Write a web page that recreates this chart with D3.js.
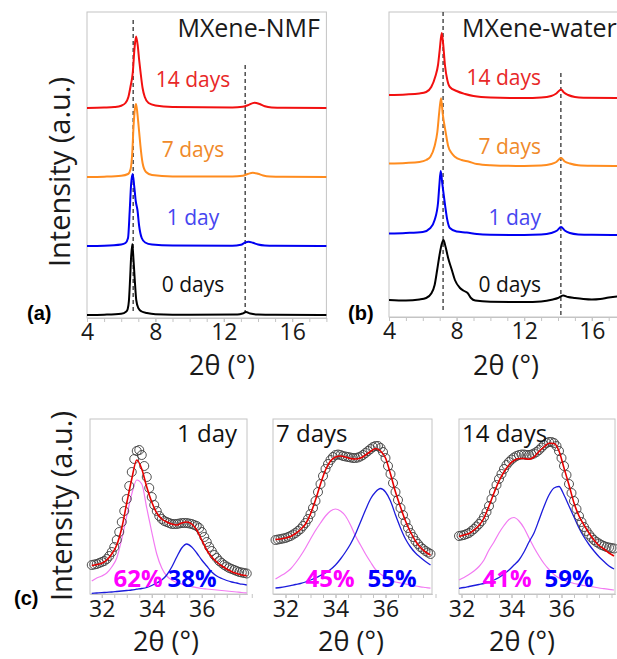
<!DOCTYPE html>
<html>
<head>
<meta charset="utf-8">
<script src="https://cdn.jsdelivr.net/npm/d3@7/dist/d3.min.js"></script>
<style>
body { margin: 0; background: #fff; }
svg { display: block; font-family: "Open Sans", "DejaVu Sans", sans-serif; }
</style>
</head>
<body>
<script>
// ---------- (a) / (b): stacked XRD patterns, [2theta, intensity above own baseline] ----------
const days = ["0 days", "1 day", "7 days", "14 days"]
const lineColors = ["#000000", "#0000f2", "#ff8c1f", "#f21010"]
const labelColors = ["#111111", "#4646f0", "#f08a2a", "#e82828"]

const nmf0 = [[4,0],[5,0.3],[6,1.2],[6.3,3.5],[6.38,6],[6.45,14],[6.52,36],[6.58,58],[6.65,71],[6.72,55],[6.79,36],[6.88,15],[7,7],[7.2,3.5],[7.5,2],[8,0.8],[10,0.3],[12.8,0.5],[13.1,1.5],[13.3,3],[13.55,1.5],[14,0.5],[15,0.2],[18,0]]
const nmf1 = [[4,0],[5,0.3],[6,1.5],[6.25,3],[6.4,8],[6.5,36],[6.58,62],[6.67,72],[6.76,60],[6.85,45],[6.95,36],[7.05,20],[7.2,8],[7.4,3.5],[7.8,1.5],[9,0.5],[12.5,0.3],[13,1.2],[13.25,3.5],[13.45,4.3],[13.7,3.2],[14,1.5],[14.4,0.5],[15,0.2],[18,0]]
const nmf7 = [[4,0],[5,0.3],[6,1.2],[6.4,3],[6.55,8],[6.65,25],[6.72,50],[6.8,68],[6.87,73],[6.95,63],[7.05,45],[7.12,32],[7.25,14],[7.45,5],[7.8,2],[9,0.6],[12.5,0.4],[13.1,1.2],[13.4,3],[13.7,4.2],[14,3.2],[14.3,1.5],[14.7,0.5],[15.5,0.2],[18,0]]
const nmf14 = [[4,0],[5,0.4],[5.6,1],[6,2.3],[6.25,5],[6.42,11],[6.55,22],[6.68,36],[6.78,60],[6.87,71.5],[6.97,62],[7.05,48],[7.13,36],[7.25,20],[7.38,11],[7.6,5],[8,2.5],[9,1],[12.5,0.5],[13.1,1.2],[13.4,2.8],[13.8,5.3],[14.1,4],[14.4,1.8],[14.8,0.6],[15.5,0.2],[18,0]]

const water0 = [[4,2],[5,1.5],[5.8,2.5],[6.2,4],[6.5,8.5],[6.7,17],[6.85,32],[7,48],[7.12,58],[7.22,62],[7.35,55],[7.5,44],[7.7,33],[7.9,22],[8.2,14],[8.45,11],[8.65,9],[8.85,4],[9.1,1.5],[10,0.3],[12,0],[13,0.5],[13.7,2.5],[14,4],[14.3,6.5],[14.6,5],[15,4],[15.5,3],[16,2.5],[16.5,3],[17,4.5],[17.5,5.5],[18,6]]
const water1 = [[4,1.5],[5,2],[6,3],[6.45,7],[6.7,15],[6.9,32],[6.98,50],[7.06,64],[7.15,52],[7.3,32],[7.45,15],[7.6,7],[8,3.5],[8.6,2.5],[9.2,1],[10,0.3],[12,0],[13,0.4],[13.6,2],[13.95,4.5],[14.18,8],[14.4,4.5],[14.7,2],[15.2,0.6],[16,0.2],[18,0]]
const water7 = [[4,2.5],[5,3],[5.8,4],[6.2,6],[6.45,9.3],[6.7,20],[6.86,34],[6.98,55],[7.08,67.7],[7.18,52],[7.35,34],[7.5,20],[7.7,13],[7.9,9.3],[8.3,6],[8.7,4.5],[9.2,2],[10,0.8],[12,0],[13,0.4],[13.6,2],[13.9,4],[14.18,8],[14.4,4.5],[14.7,2.5],[15.2,0.8],[16,0.3],[18,0]]
const water14 = [[4,3],[5,3.5],[5.8,4.5],[6.2,6],[6.5,11],[6.75,22],[6.9,33],[7,48],[7.12,65],[7.2,55],[7.31,33],[7.45,18],[7.6,11],[8,7],[8.5,4],[9,2],[10,0.5],[12,0],[13,0.5],[13.6,2],[13.9,4.5],[14.18,8.5],[14.35,5.5],[14.6,3],[15,1],[15.5,0.3],[18,0]]

const nmfOffsets = [3, 72, 141, 210]
const waterOffsets = [15, 82, 151, 219]
const nmfPeaks = [6.7, 13.25]
const waterPeaks = [7.2, 14.17]
const xrdTicks = [4, 8, 12, 16]

// ---------- (c): peak fits, 2theta 0.1 step for points, 0.2 step for curves ----------
const fitLabels = ["1 day", "7 days", "14 days"]
const magentaShare = ["62%", "45%", "41%"]
const blueShare = ["38%", "55%", "59%"]
const firstTheta = [31.6, 31.6, 31.9]
const fitTicks = [32, 34, 36]

const obs1 = [29,29.5,30,31,32,33,35,38,42,47,54,62,72,83,95,108,122,135,143,144,139,128,117,106,97,89,83,78,75,73,72,71,70,70,70,70.5,71,71,71,70.5,70,69,68,66,62,57,52,47,43,39,36,33,31,29,27.5,26,25,24,23,22,21.5,21,20.5]
const fit1 = [28.5,29.5,30.7,34,40,49,66,91,115,134,125,107,92,81,75,72,70,69,71,72,70,64,54,44,37,32,28,25,22.3,20.5,19,18.3]
const pink1 = [13,16,18,21,27,36,55,78,100,114,110,86,62,40,26,18,14,11.5,10,8.5,7.3,6.3,5.5,5,4.5,4,3.5,3,2.5,2,1.5,1.2]
const blue1 = [0.7,1,1.3,1.7,2,2.5,3,3.5,4,4.8,5.5,6.5,8.5,11,14,19,27,37,46,50,47,41,34,28,22,18,15.5,13.5,12,11,9.8,9]

const obs7 = [54,54.5,55,55.5,56,57,58,59.5,61,63,65,68,71,75,80,86,93,102,110,118,125,130,134,137,139,139.5,139,138,137.5,137,136.5,136,136,136.5,137.5,139,141,143,145,147,148,148,146,142,136,128,120,111,102,94,86,79,72,66,61,57,53,50,47,45,43,41.5,40]
const fit7 = [54.5,55,56,57.5,60.5,64.5,70,80,94,110,124,133,137,138,137,135.5,135,136,139,142.5,145.5,143,136,120,102,87,73,62,53,46.5,42,39]
const pink7 = [15,18,21,25,31,38,46,55,63.5,71,78,83,85,83,78,69,58,49,40,32,24.5,20,16.5,13.5,12,11,10,9,8,7.2,6.5,5.8]
const blue7 = [6,6.5,7.3,8.3,9.5,10.5,12,14,16,18.5,21,24.5,29,35,42,50,60,72,84,95,102,105.5,102,93,79,66,55,47,41,36.5,32.5,29]

const obs14 = [58,58.5,59,60,61,63,65,67.5,70,73,77,82,88,95,102,109,115,120,125,129,132,134.5,136.5,138,139,139.5,139.5,139,139,139.5,140.5,142,144,146.5,149,151,152,152,151,148,143,136,128,119,110,101,93,85,78,72,67,63,59.5,56.5,54,52,50.5,49,48,47,46.5,46,45.5]
const fit14 = [57.5,59,60.5,64,68.5,76,88,101,113,122,129,133.5,135.5,135.5,134.7,137,142.5,147,150.7,150.5,143,126,109,91,78,69,61,54,48.5,45,41,38]
const pink14 = [14,16.5,19.5,23,27.5,34,44,52,61,68.5,74.5,76.5,73,66,56,46.5,38,30.5,24.5,19.5,16,13.5,12,10.5,9.5,8.5,7.8,7,6,5.3,4.6,4]
const blue14 = [5.7,6.5,7.5,8.5,9.5,10.5,12,14,16.5,20,24,29,34,42,52,61,74,87.5,99,106,107.5,99,88,77,66,57,49.5,43,37.3,32.5,28,25]

const W = 617, H = 659
const boxColor = "#c4c4c4"
const svg = d3.select("body").append("svg").attr("width", W).attr("height", H)

function styleAxis(g) {
  g.selectAll("path, line").attr("stroke", boxColor)
  g.selectAll("text").attr("fill", "#1a1a1a").attr("font-family", "Open Sans")
}

function xrdPanel(o) {
  const x = d3.scaleLinear().domain([4, 18]).range([o.left, o.left + 14 * o.unit])
  const y = d3.scaleLinear().domain([0, o.bottom - o.top]).range([o.bottom, o.top])
  const g = svg.append("g")

  g.append("rect").attr("x", x(4)).attr("y", o.top)
    .attr("width", x(18) - x(4)).attr("height", o.bottom - o.top)
    .attr("fill", "none").attr("stroke", boxColor)

  g.append("g").attr("transform", `translate(0,${o.bottom})`)
    .call(d3.axisBottom(x).tickValues(d3.range(4, 19)).tickSize(4).tickSizeOuter(0).tickFormat(""))
    .call(styleAxis)
  g.append("g").attr("transform", `translate(0,${o.bottom})`)
    .call(d3.axisBottom(x).tickValues(xrdTicks).tickSize(4).tickPadding(2).tickSizeOuter(0).tickFormat(d3.format("d")))
    .call(styleAxis)
    .selectAll("text").attr("font-size", 23)

  o.peaks.forEach((p, i) => {
    g.append("line").attr("x1", x(p)).attr("x2", x(p))
      .attr("y1", o.dashTop[i]).attr("y2", o.dashBottom[i])
      .attr("stroke", "#333").attr("stroke-width", 1.3).attr("stroke-dasharray", "4,3")
  })

  o.series.forEach((s, i) => {
    const line = d3.line().x(d => x(d[0])).y(d => y(d[1] + o.offsets[i])).curve(d3.curveMonotoneX)
    g.append("path").datum(s).attr("d", line)
      .attr("fill", "none").attr("stroke", lineColors[i]).attr("stroke-width", 2)
    g.append("text").attr("x", o.labelX).attr("y", y(o.offsets[i] + o.labelRise[i]))
      .attr("dy", "0.35em").attr("text-anchor", o.labelAnchor)
      .attr("font-size", 21).attr("fill", labelColors[i]).text(days[i])
  })

  g.append("text").attr("x", o.titleX).attr("y", 37).attr("text-anchor", o.titleAnchor)
    .attr("font-size", 25).attr("fill", "#1a1a1a").text(o.title)
  g.append("text").attr("x", o.tagX).attr("y", 320).attr("font-size", 20)
    .attr("font-weight", "bold").attr("font-family", "Liberation Sans, Arial, sans-serif").text(o.tag)
  g.append("text").attr("x", o.xTitleX).attr("y", 366).attr("dy", "0.35em")
    .attr("text-anchor", "middle").attr("font-size", 27).attr("fill", "#1a1a1a").text("2θ (°)")
}

xrdPanel({
  left: 87, unit: 17.1, top: 12, bottom: 318,
  series: [nmf0, nmf1, nmf7, nmf14], offsets: nmfOffsets, peaks: nmfPeaks,
  dashTop: [20, 65], dashBottom: [312, 312],
  labelX: 193, labelAnchor: "middle", labelRise: [30, 28, 27, 28],
  title: "MXene-NMF", titleX: 320, titleAnchor: "end",
  tag: "(a)", tagX: 27, xTitleX: 222
})
xrdPanel({
  left: 389, unit: 16.9, top: 12, bottom: 317,
  series: [water0, water1, water7, water14], offsets: waterOffsets, peaks: waterPeaks,
  dashTop: [12, 73], dashBottom: [310, 316],
  labelX: 541, labelAnchor: "end", labelRise: [17, 17, 19, 20],
  title: "MXene-water", titleX: 462, titleAnchor: "start",
  tag: "(b)", tagX: 348, xTitleX: 506
})

svg.append("text").attr("transform", "translate(60,172) rotate(-90)")
  .attr("text-anchor", "middle").attr("dy", "0.35em")
  .attr("font-size", 29).attr("fill", "#1a1a1a").text("Intensity (a.u.)")

// ---------- (c) ----------
const fits = [
  { obs: obs1, fit: fit1, pink: pink1, blue: blue1 },
  { obs: obs7, fit: fit7, pink: pink7, blue: blue7 },
  { obs: obs14, fit: fit14, pink: pink14, blue: blue14 }
]
const boxes = [
  { left: 90, right: 247, theta0: 31.53, labelX: 237, labelAnchor: "end", pctX: [138, 192], xTitle: 166 },
  { left: 273, right: 432, theta0: 31.5, labelX: 276, labelAnchor: "start", pctX: [330, 392], xTitle: 351 },
  { left: 459, right: 615, theta0: 31.9, labelX: 462, labelAnchor: "start", pctX: [507, 569], xTitle: 522 }
]
const cTop = 419, cBottom = 594
const yc = d3.scaleLinear().domain([0, 175]).range([cBottom, cTop])

fits.forEach((f, k) => {
  const b = boxes[k]
  const x = d3.scaleLinear().domain([b.theta0, b.theta0 + (b.right - b.left) / 25]).range([b.left, b.right])
  const g = svg.append("g")
  const obsTheta = f.obs.map((_, i) => firstTheta[k] + i * 0.1)
  const lineTheta = f.fit.map((_, i) => firstTheta[k] + i * 0.2)
  const line = d3.line().x((d, i) => x(lineTheta[i])).y(d => yc(d)).curve(d3.curveMonotoneX)

  g.append("rect").attr("x", b.left).attr("y", cTop)
    .attr("width", b.right - b.left).attr("height", cBottom - cTop)
    .attr("fill", "none").attr("stroke", boxColor)
  g.append("g").attr("transform", `translate(0,${cBottom})`)
    .call(d3.axisBottom(x).tickValues(d3.range(32, 38.01, 0.5)).tickSize(4).tickSizeOuter(0).tickFormat(""))
    .call(styleAxis)
  g.append("g").attr("transform", `translate(0,${cBottom})`)
    .call(d3.axisBottom(x).tickValues(fitTicks).tickSize(4).tickPadding(3).tickSizeOuter(0).tickFormat(d3.format("d")))
    .call(styleAxis)
    .selectAll("text").attr("font-size", 23)

  g.append("path").datum(f.pink).attr("d", line)
    .attr("fill", "none").attr("stroke", "#f27af2").attr("stroke-width", 1.2)
  g.append("path").datum(f.blue).attr("d", line)
    .attr("fill", "none").attr("stroke", "#1c1cdc").attr("stroke-width", 1.3)
  g.append("g").selectAll("circle").data(f.obs).join("circle")
    .attr("cx", (d, i) => x(obsTheta[i])).attr("cy", d => yc(d)).attr("r", 4.5)
    .attr("fill", "none").attr("stroke", "#3c3c3c").attr("stroke-width", 0.9)
  g.append("path").datum(f.fit).attr("d", line)
    .attr("fill", "none").attr("stroke", "#e60000").attr("stroke-width", 1.6)

  g.append("text").attr("x", b.labelX).attr("y", 442).attr("text-anchor", b.labelAnchor)
    .attr("font-size", 24).attr("fill", "#111").text(fitLabels[k])
  g.append("text").attr("x", b.pctX[0]).attr("y", 587).attr("text-anchor", "middle")
    .attr("font-size", 24).attr("font-weight", "bold").attr("fill", "#ff00ff").text(magentaShare[k])
  g.append("text").attr("x", b.pctX[1]).attr("y", 587).attr("text-anchor", "middle")
    .attr("font-size", 24).attr("font-weight", "bold").attr("fill", "#0000ff").text(blueShare[k])
  g.append("text").attr("x", b.xTitle).attr("y", 642).attr("dy", "0.35em")
    .attr("text-anchor", "middle").attr("font-size", 27).attr("fill", "#1a1a1a").text("2θ (°)")
})

svg.append("text").attr("transform", "translate(62,506) rotate(-90)")
  .attr("text-anchor", "middle").attr("dy", "0.35em")
  .attr("font-size", 29).attr("fill", "#1a1a1a").text("Intensity (a.u.)")
svg.append("text").attr("x", 14).attr("y", 605).attr("font-size", 20)
  .attr("font-weight", "bold").attr("font-family", "Liberation Sans, Arial, sans-serif").text("(c)")
</script>
</body>
</html>
